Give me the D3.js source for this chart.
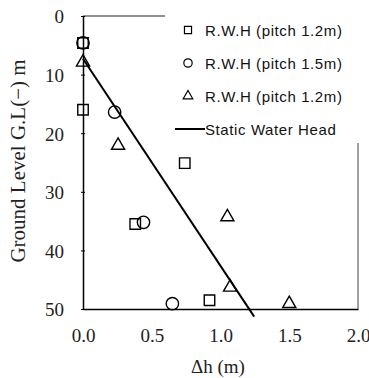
<!DOCTYPE html>
<html><head><meta charset="utf-8">
<script src="https://cdn.jsdelivr.net/npm/d3@7"></script>
<style>body{margin:0;background:#fff}svg{display:block}</style>
</head><body>
<svg id="c" width="369" height="378"></svg>
<script>
// Data
const squares = [[0.0, 4.6], [0.0, 16.0], [0.38, 35.5], [0.74, 25.1], [0.92, 48.5]];
const circles = [[0.0, 4.6], [0.23, 16.4], [0.44, 35.2], [0.65, 49.1]];
const triangles = [[0.0, 7.9], [0.255, 22.1], [1.05, 34.3], [1.07, 46.3], [1.5, 49.1]];
const staticHead = [[0.0, 7.3], [1.245, 51.3]];
const xTicks = [0, 0.5, 1.0, 1.5, 2.0];
const yTicks = [0, 10, 20, 30, 40, 50];
const legendLabels = ["R.W.H (pitch 1.2m)", "R.W.H (pitch 1.5m)", "R.W.H (pitch 1.2m)", "Static Water Head"];

const svg = d3.select("#c");
const x = d3.scaleLinear().domain([0, 2]).range([83, 358]);
const y = d3.scaleLinear().domain([0, 50]).range([16, 309]);
const serif = "'Liberation Serif','DejaVu Serif',serif";
const sans = "'Liberation Sans',Arial,sans-serif";

// frame top & right
svg.append("line").attr("x1", x(0)).attr("x2", x(2)).attr("y1", y(0)).attr("y2", y(0)).attr("stroke", "#222").attr("stroke-width", 1);
svg.append("line").attr("x1", x(2)).attr("x2", x(2)).attr("y1", y(0)).attr("y2", y(50)).attr("stroke", "#444").attr("stroke-width", 1);

// axes
const gx = svg.append("g").attr("transform", `translate(0,${y(50)})`)
  .call(d3.axisBottom(x).tickValues(xTicks).tickFormat(d3.format(".1f")).tickSizeInner(0).tickSizeOuter(0).tickPadding(20));
const gy = svg.append("g").attr("transform", `translate(${x(0)},0)`)
  .call(d3.axisLeft(y).tickValues(yTicks).tickFormat(d3.format("d")).tickSizeInner(2).tickSizeOuter(0).tickPadding(17));
gy.selectAll(".tick line").attr("x1", -2).attr("x2", 2);
[gx, gy].forEach(g => {
  g.select(".domain").attr("stroke", "#000").attr("stroke-width", 1.5);
  g.selectAll(".tick line").attr("stroke", "#000");
  g.selectAll("text").attr("font-family", serif).attr("font-size", 19).attr("fill", "#222");
});
gy.selectAll("text").attr("dy", "0.36em");

// axis titles
svg.append("text").attr("x", 218).attr("y", 373).attr("text-anchor", "middle")
  .attr("font-family", serif).attr("font-size", 19).attr("fill", "#222").text("Δh (m)");
svg.append("text").attr("transform", `translate(25,${161}) rotate(-90)`).attr("text-anchor", "middle")
  .attr("font-family", serif).attr("font-size", 21).attr("fill", "#222").text("Ground Level G.L(−) m");

// legend background (covers frame)
svg.append("rect").attr("x", 165).attr("y", 4).attr("width", 198).attr("height", 139).attr("fill", "#fff");

// static water head line
svg.append("path").attr("d", d3.line().x(d => x(d[0])).y(d => y(d[1]))(staticHead))
  .attr("fill", "none").attr("stroke", "#000").attr("stroke-width", 2);

// markers
const sq = d3.symbol().type(d3.symbolSquare).size(110);
const ci = d3.symbol().type(d3.symbolCircle).size(120);
const tr = d3.symbol().type(d3.symbolTriangle).size(75);
function draw(data, sym) {
  svg.append("g").selectAll("path").data(data).join("path")
    .attr("transform", d => `translate(${x(d[0])},${y(d[1])})`)
    .attr("d", sym).attr("fill", "none").attr("stroke", "#000").attr("stroke-width", 1.4);
}
draw(squares, sq);
draw(circles, ci);
draw(triangles, tr);

// legend
const lg = svg.append("g");
const rowsY = [30, 63, 96, 129];
const lsyms = [d3.symbol().type(d3.symbolSquare).size(50), d3.symbol().type(d3.symbolCircle).size(55), d3.symbol().type(d3.symbolTriangle).size(40)];
lsyms.forEach((s, i) => {
  lg.append("path").attr("transform", `translate(188,${rowsY[i]})`).attr("d", s)
    .attr("fill", "none").attr("stroke", "#000").attr("stroke-width", 1.2);
});
lg.append("line").attr("x1", 175).attr("x2", 205).attr("y1", rowsY[3]).attr("y2", rowsY[3]).attr("stroke", "#000").attr("stroke-width", 2);
legendLabels.forEach((t, i) => {
  lg.append("text").attr("x", 205).attr("y", rowsY[i] + 5.5)
    .attr("font-family", sans).attr("font-size", 15).attr("letter-spacing", 0.6).attr("fill", "#111").text(t);
});
</script>
</body></html>
